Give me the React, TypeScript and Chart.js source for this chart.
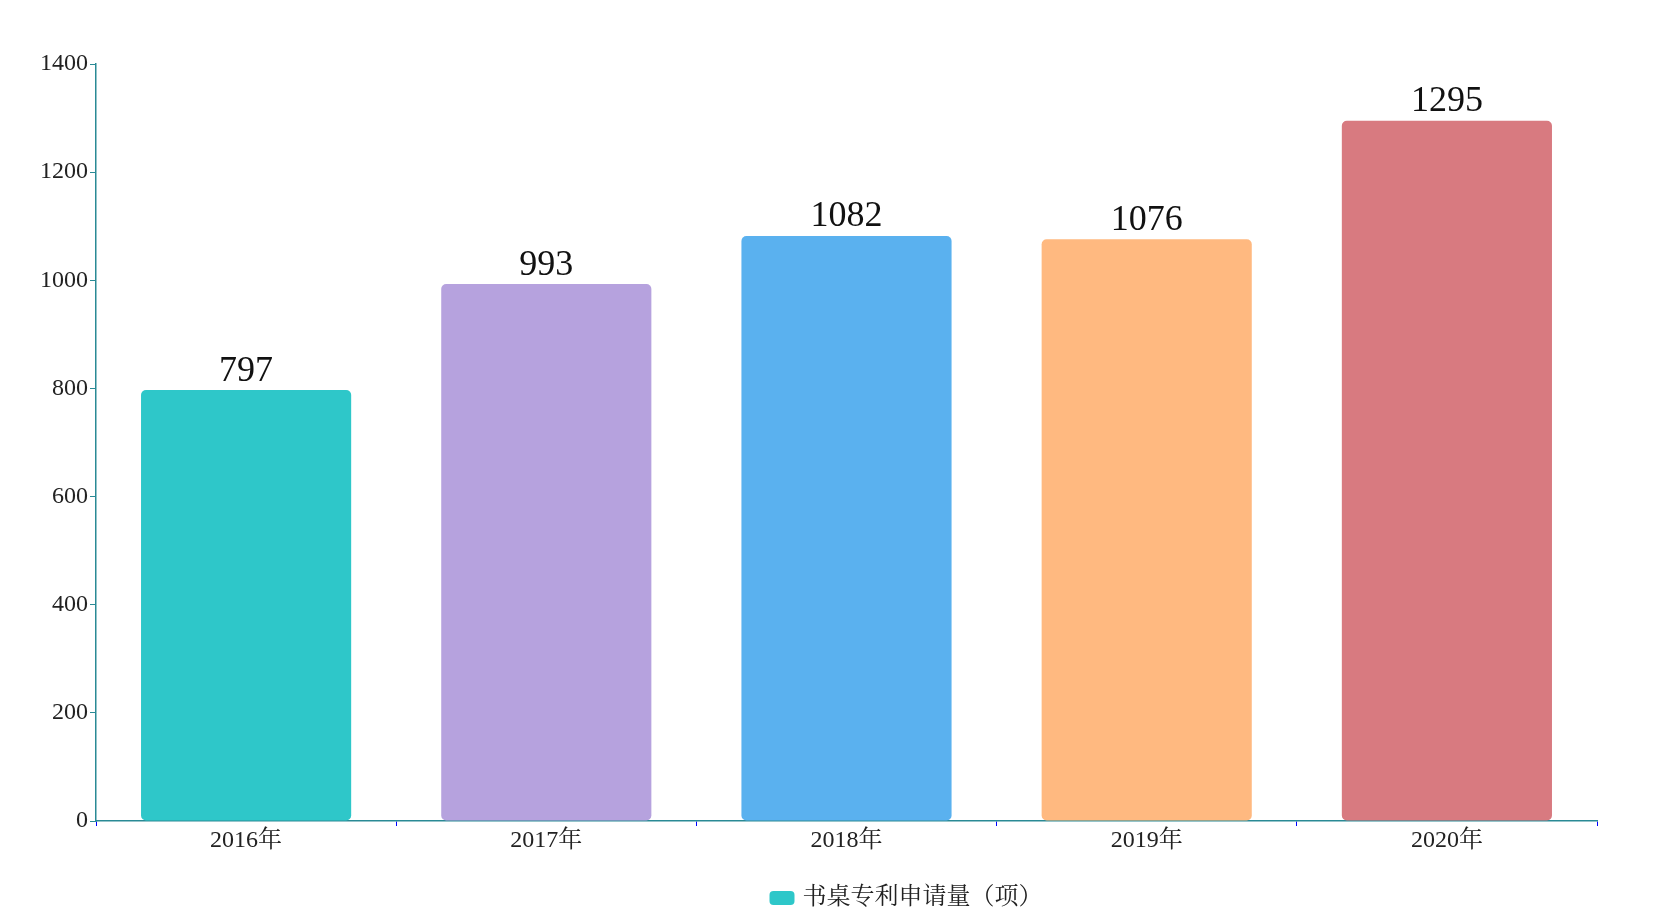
import React, { useEffect, useRef } from "react";
import { Chart, registerables } from "chart.js";

Chart.register(...registerables);

const categories = ["2016年", "2017年", "2018年", "2019年", "2020年"];
const seriesName = "书桌专利申请量（项）";
const values = [797, 993, 1082, 1076, 1295];
const barColors = ["#2ec7c9", "#b6a2de", "#5ab1ef", "#ffb980", "#d87a80"];
const yTicks = [0, 200, 400, 600, 800, 1000, 1200, 1400];

const FONT = "'Liberation Serif', 'Noto Serif CJK SC', 'Noto Sans CJK SC', serif";

const valueLabels = {
  id: "valueLabels",
  afterDatasetsDraw(chart: any) {
    const ctx = chart.ctx;
    const meta = chart.getDatasetMeta(0);
    ctx.save();
    ctx.font = `36px ${FONT}`;
    ctx.fillStyle = "#111";
    ctx.textAlign = "center";
    ctx.textBaseline = "bottom";
    meta.data.forEach((bar: any, i: number) => {
      ctx.fillText(String(values[i]), bar.x, bar.y - 1);
    });
    ctx.restore();
  },
};

const customLegend = {
  id: "customLegend",
  afterDraw(chart: any) {
    const ctx = chart.ctx;
    ctx.save();
    ctx.font = `24px ${FONT}`;
    const textW = ctx.measureText(seriesName).width;
    const boxW = 25;
    const boxH = 14;
    const gap = 8;
    const total = boxW + gap + textW;
    const cx = chart.width / 2 + 76;
    const cy = chart.height - 18;
    const x0 = cx - total / 2;
    ctx.fillStyle = barColors[0];
    ctx.beginPath();
    (ctx as any).roundRect(x0, cy - boxH / 2, boxW, boxH, 4);
    ctx.fill();
    ctx.fillStyle = "#222";
    ctx.textAlign = "left";
    ctx.textBaseline = "middle";
    ctx.fillText(seriesName, x0 + boxW + gap, cy);
    ctx.restore();
  },
};

export default function App() {
  const ref = useRef<HTMLCanvasElement>(null);
  useEffect(() => {
    document.body.style.margin = "0";
    const chart = new Chart(ref.current!, {
      type: "bar",
      data: {
        labels: categories,
        datasets: [
          {
            label: seriesName,
            data: values,
            backgroundColor: barColors,
            borderRadius: 5,
            borderSkipped: false,
            barPercentage: 0.7,
            categoryPercentage: 1,
          },
        ],
      },
      options: {
        animation: false,
        responsive: false,
        layout: { padding: { top: 64, left: 0, right: 63, bottom: 39 } },
        plugins: {
          tooltip: { enabled: false },
          legend: { display: false },
        },
        scales: {
          x: {
            grid: {
              display: true,
              drawOnChartArea: false,
              drawTicks: true,
              tickLength: 5,
              color: "#0000ff",
              offset: true,
            },
            border: { display: true, color: "#2a8a95", width: 1.5 },
            ticks: {
              font: { family: FONT, size: 24 },
              color: "#222",
              padding: 0,
            },
            afterFit: (axis: any) => {
              axis.height = 56;
            },
          },
          y: {
            min: 0,
            max: 1400,
            afterBuildTicks: (axis: any) => {
              axis.ticks = yTicks.map((v) => ({ value: v }));
            },
            grid: {
              display: true,
              drawOnChartArea: false,
              drawTicks: true,
              tickLength: 6,
              color: "#2a8a95",
            },
            border: { display: true, color: "#2a8a95", width: 1.5 },
            ticks: {
              font: { family: FONT, size: 24 },
              color: "#222",
              padding: 2,
              callback: (v: any) => String(v),
            },
            afterFit: (axis: any) => {
              axis.width = 96;
            },
          },
        },
      },
      plugins: [valueLabels, customLegend],
    });
    return () => chart.destroy();
  }, []);
  return (
    <div style={{ width: 1660, height: 916 }}>
      <canvas ref={ref} width={1660} height={916} style={{ display: "block" }} />
    </div>
  );
}
